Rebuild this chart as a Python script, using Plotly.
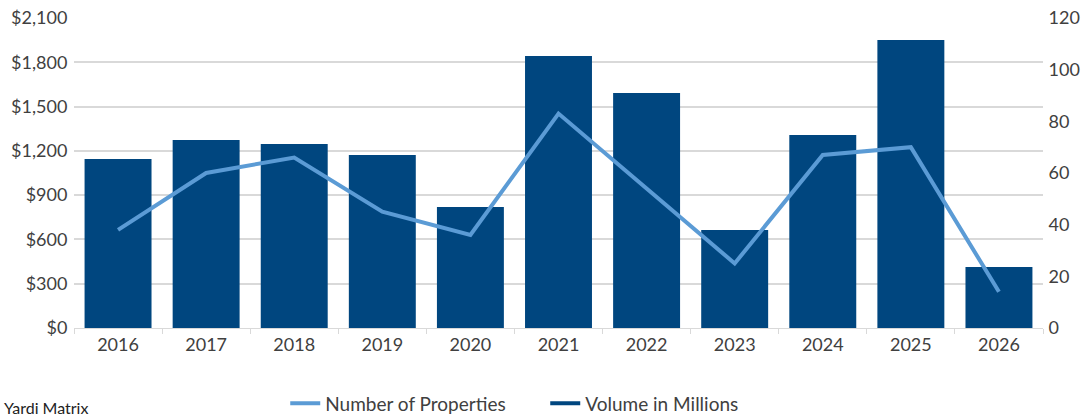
import plotly.graph_objects as go

years = ["2016", "2017", "2018", "2019", "2020", "2021", "2022", "2023", "2024", "2025", "2026"]
volume_millions = [1145, 1274, 1246, 1172, 820, 1843, 1592, 664, 1307, 1951, 413]
num_properties = [38, 60, 66, 45, 36, 83, 54, 25, 67, 70, 14]

left_ticks = [0, 300, 600, 900, 1200, 1500, 1800, 2100]
left_labels = ["$0", "$300", "$600", "$900", "$1,200", "$1,500", "$1,800", "$2,100"]
right_ticks = [0, 20, 40, 60, 80, 100, 120]

NAVY = "#00467F"
LIGHT = "#5B9BD5"
TXT = "#404040"
GRID = "#D9D9D9"

fig = go.Figure()
fig.add_trace(go.Bar(x=years, y=volume_millions, name="Volume in Millions",
                     marker=dict(color=NAVY, line=dict(width=0)),
                     showlegend=False, yaxis="y"))
fig.add_trace(go.Scatter(x=years, y=num_properties, name="Number of Properties",
                         mode="lines", line=dict(color=LIGHT, width=4),
                         yaxis="y2"))
# legend entry for bars drawn as a line symbol
fig.add_trace(go.Scatter(x=[None], y=[None], name="Volume in Millions",
                         mode="lines", line=dict(color=NAVY, width=4),
                         yaxis="y2"))

fig.update_layout(
    width=1084, height=416,
    margin=dict(l=74, r=41, t=18, b=88, autoexpand=False),
    paper_bgcolor="white", plot_bgcolor="white",
    font=dict(family="Lato, sans-serif", size=18, color=TXT),
    bargap=0.24,
    xaxis=dict(type="category", showgrid=False, showline=True, linecolor=GRID,
               ticks="outside", tickson="boundaries", ticklen=5, tickcolor=GRID,
               tickfont=dict(size=18, color=TXT)),
    yaxis=dict(range=[0, 2100], tickvals=left_ticks, ticktext=left_labels,
               showgrid=True, gridcolor=GRID, gridwidth=1.5, zeroline=False,
               ticks="outside", ticklen=2, tickcolor="white", showline=False,
               automargin=False),
    yaxis2=dict(range=[0, 120], tickvals=right_ticks, overlaying="y", side="right",
                showgrid=False, zeroline=False, ticks="outside", ticklen=1,
                tickcolor="white", automargin=False),
    legend=dict(orientation="h", x=0.218, xanchor="left", y=-0.243, yanchor="middle",
                font=dict(family="Lato, sans-serif", size=19, color=TXT),
                itemwidth=30, entrywidth=215, traceorder="normal",
                bgcolor="rgba(0,0,0,0)"),
    annotations=[dict(text="Yardi Matrix", xref="paper", yref="paper",
                      x=-0.074, y=-0.22, xanchor="left", yanchor="top",
                      showarrow=False, font=dict(size=16, color="#222222"))],
)

fig.write_html("out.html")
